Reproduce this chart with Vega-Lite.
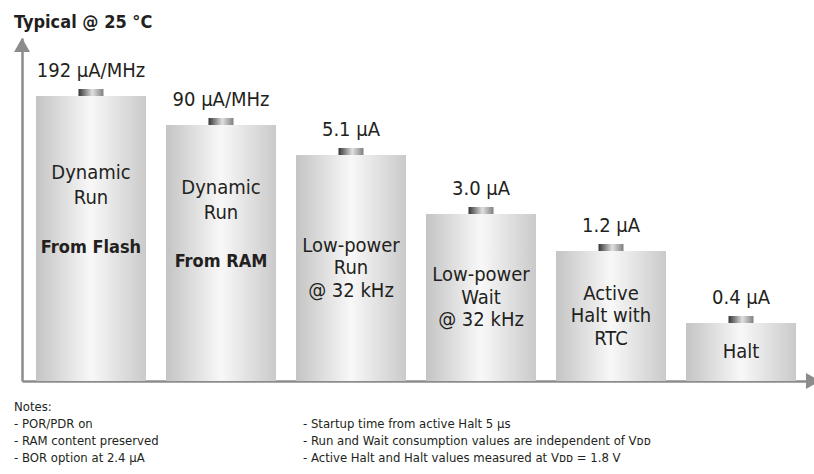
{
  "$schema": "https://vega.github.io/schema/vega-lite/v6.json",
  "background": "white",
  "padding": {"left": 14, "top": 14, "right": 0, "bottom": 0},
  "config": {
    "view": {"stroke": null},
    "axis": {"minExtent": 0, "maxExtent": 0},
    "font": "DejaVu Sans Condensed, sans-serif",
    "text": {"font": "DejaVu Sans Condensed, sans-serif", "color": "#231f20"}
  },
  "datasets": {
    "bars": [
      {"mode": "Dynamic Run from Flash", "current": 192, "label": "192 µA/MHz", "h": 285, "lines": ["Dynamic", "Run"], "bold": "From Flash"},
      {"mode": "Dynamic Run from RAM", "current": 90, "label": "90 µA/MHz", "h": 256, "lines": ["Dynamic", "Run"], "bold": "From RAM"},
      {"mode": "Low-power Run", "current": 5.1, "label": "5.1 µA", "h": 226, "lines": ["Low-power", "Run", "@ 32 kHz"]},
      {"mode": "Low-power Wait", "current": 3.0, "label": "3.0 µA", "h": 167, "lines": ["Low-power", "Wait", "@ 32 kHz"]},
      {"mode": "Active Halt with RTC", "current": 1.2, "label": "1.2 µA", "h": 130, "lines": ["Active", "Halt with", "RTC"]},
      {"mode": "Halt", "current": 0.4, "label": "0.4 µA", "h": 58, "lines": ["Halt"]}
    ],
    "notes": [
      {"col": 1, "row": 0, "note": "Notes:"},
      {"col": 1, "row": 1, "note": "- POR/PDR on"},
      {"col": 1, "row": 2, "note": "- RAM content preserved"},
      {"col": 1, "row": 3, "note": "- BOR option at 2.4 µA"},
      {"col": 2, "row": 1, "note": "- Startup time from active Halt 5 µs"},
      {"col": 2, "row": 2, "note": "- Run and Wait consumption values are independent of Vᴅᴅ"},
      {"col": 2, "row": 3, "note": "- Active Halt and Halt values measured at Vᴅᴅ = 1.8 V"}
    ]
  },
  "spacing": 12,
  "vconcat": [
    {
      "width": 792,
      "height": 343,
      "title": {
        "text": "Typical @ 25 °C",
        "anchor": "start",
        "frame": "group",
        "fontSize": 18,
        "fontWeight": "bold",
        "font": "DejaVu Sans Condensed, sans-serif",
        "color": "#231f20",
        "dx": -8,
        "offset": 6
      },
      "data": {"name": "bars"},
      "resolve": {"scale": {"y": "independent"}},
      "layer": [
        {
          "mark": {
            "type": "bar",
            "stroke": null,
            "fill": {
              "gradient": "linear",
              "stops": [
                {"offset": 0, "color": "#c4c4c4"},
                {"offset": 0.5, "color": "#f8f8f8"},
                {"offset": 1, "color": "#cacaca"}
              ]
            }
          },
          "encoding": {
            "x": {
              "field": "mode", "type": "nominal", "sort": null,
              "scale": {"paddingInner": 0.154, "paddingOuter": 0.123, "align": 0.4375},
              "axis": {"domain": true, "domainColor": "#8c8c8c", "domainWidth": 2.5, "ticks": false, "labels": false, "title": null, "grid": false}
            },
            "y": {
              "field": "h", "type": "quantitative",
              "scale": {"domain": [0, 343], "nice": false},
              "axis": {"domain": true, "domainColor": "#8c8c8c", "domainWidth": 2.5, "ticks": false, "labels": false, "title": null, "grid": false}
            }
          }
        },
        {
          "mark": {
            "type": "tick", "size": 25, "thickness": 7, "yOffset": -3.5, "opacity": 1,
            "color": {
              "gradient": "linear",
              "stops": [
                {"offset": 0, "color": "#353535"},
                {"offset": 0.55, "color": "#e0e0e0"},
                {"offset": 1, "color": "#808080"}
              ]
            }
          },
          "encoding": {
            "x": {"field": "mode", "type": "nominal", "sort": null},
            "y": {"field": "h", "type": "quantitative", "scale": {"domain": [0, 343], "nice": false}, "axis": null}
          }
        },
        {
          "mark": {"type": "text", "fontSize": 20, "baseline": "alphabetic", "dy": -19, "align": "center"},
          "encoding": {
            "x": {"field": "mode", "type": "nominal", "sort": null},
            "y": {"field": "h", "type": "quantitative", "scale": {"domain": [0, 343], "nice": false}, "axis": null},
            "text": {"field": "label"}
          }
        },
        {
          "transform": [{"filter": "isValid(datum.bold)"}],
          "mark": {"type": "text", "fontSize": 20, "baseline": "middle", "align": "center", "lineHeight": 25, "dy": -65.5},
          "encoding": {
            "x": {"field": "mode", "type": "nominal", "sort": null},
            "y": {"field": "h", "type": "quantitative", "scale": {"domain": [0, 686], "nice": false}, "axis": null},
            "text": {"field": "lines"}
          }
        },
        {
          "transform": [{"filter": "isValid(datum.bold)"}],
          "mark": {"type": "text", "fontSize": 18, "fontWeight": "bold", "baseline": "middle", "align": "center", "dy": 9},
          "encoding": {
            "x": {"field": "mode", "type": "nominal", "sort": null},
            "y": {"field": "h", "type": "quantitative", "scale": {"domain": [0, 686], "nice": false}, "axis": null},
            "text": {"field": "bold"}
          }
        },
        {
          "transform": [{"filter": "!isValid(datum.bold) && length(datum.lines) == 3"}],
          "mark": {"type": "text", "fontSize": 20, "baseline": "middle", "align": "center", "lineHeight": 22.5, "dy": -22.5},
          "encoding": {
            "x": {"field": "mode", "type": "nominal", "sort": null},
            "y": {"field": "h", "type": "quantitative", "scale": {"domain": [0, 686], "nice": false}, "axis": null},
            "text": {"field": "lines"}
          }
        },
        {
          "transform": [{"filter": "!isValid(datum.bold) && length(datum.lines) == 1"}],
          "mark": {"type": "text", "fontSize": 20, "baseline": "middle", "align": "center"},
          "encoding": {
            "x": {"field": "mode", "type": "nominal", "sort": null},
            "y": {"field": "h", "type": "quantitative", "scale": {"domain": [0, 686], "nice": false}, "axis": null},
            "text": {"field": "lines"}
          }
        },
        {
          "data": {"values": [{"axis": "y"}]},
          "mark": {"type": "point", "shape": "M0,0L1,1.75L-1,1.75Z", "size": 256, "filled": true, "color": "#8c8c8c", "opacity": 1, "strokeWidth": 0},
          "encoding": {
            "x": {"value": 0},
            "y": {"datum": 343, "type": "quantitative", "scale": {"domain": [0, 343], "nice": false}, "axis": null}
          }
        },
        {
          "data": {"values": [{"axis": "x"}]},
          "mark": {"type": "point", "shape": "M-1,-1L0.75,0L-1,1Z", "size": 256, "filled": true, "color": "#8c8c8c", "opacity": 1, "strokeWidth": 0},
          "encoding": {
            "x": {"value": "width"},
            "y": {"datum": 0, "type": "quantitative", "scale": {"domain": [0, 343], "nice": false}, "axis": null}
          }
        }
      ]
    },
    {
      "width": 289,
      "height": 51,
      "data": {"name": "notes"},
      "mark": {"type": "text", "align": "left", "baseline": "middle", "fontSize": 13, "dx": -8},
      "encoding": {
        "x": {"field": "col", "type": "ordinal", "scale": {"type": "point", "padding": 0}, "axis": null},
        "y": {"field": "row", "type": "ordinal", "scale": {"type": "point", "padding": 0}, "axis": null},
        "text": {"field": "note"}
      }
    }
  ]
}
